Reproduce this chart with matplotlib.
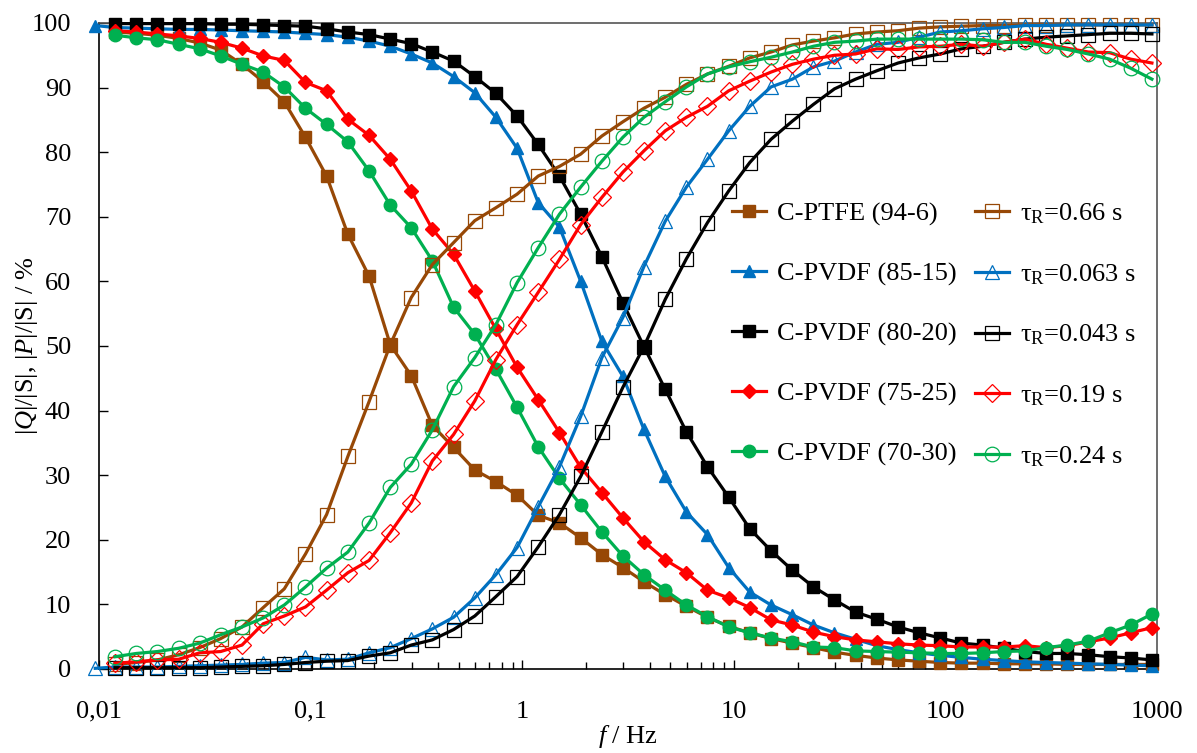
import numpy as np
import matplotlib
matplotlib.use("Agg")
import matplotlib.pyplot as plt
from matplotlib.ticker import FixedLocator, FixedFormatter, LogLocator, NullFormatter

plt.rcParams["font.family"] = ["Liberation Serif", "DejaVu Serif"]
plt.rcParams["mathtext.fontset"] = "custom"
plt.rcParams["mathtext.rm"] = "Liberation Serif"
plt.rcParams["mathtext.it"] = "Liberation Serif:italic"

###############################################################
# data
###############################################################
freq = [0.0119, 0.0150, 0.0189, 0.0238, 0.0299, 0.0376, 0.0474, 0.0597, 0.0751, 0.0946,
        0.119, 0.150, 0.189, 0.238, 0.299, 0.376, 0.474, 0.597, 0.751, 0.946,
        1.19, 1.50, 1.89, 2.38, 2.99, 3.76, 4.74, 5.97, 7.51, 9.46,
        11.9, 15.0, 18.9, 23.8, 29.9, 37.6, 47.4, 59.7, 75.1, 94.6,
        119, 150, 189, 238, 299, 376, 474, 597, 751, 946]
# C-PVDF (85-15) has one extra point at the low-frequency end
freq_85 = [0.0096] + freq

ptfe_q = [98.6, 98.4, 98.1, 97.6, 96.9, 95.8, 93.6, 90.9, 87.8, 82.3,
          76.3, 67.3, 60.8, 50.2, 45.4, 37.7, 34.3, 30.8, 29.0, 26.9,
          23.8, 22.6, 20.3, 17.7, 15.7, 13.5, 11.5, 9.7, 8.0, 6.6,
          5.6, 4.7, 4.0, 3.3, 2.6, 2.1, 1.7, 1.4, 1.2, 1.0,
          0.9, 0.9, 0.8, 0.8, 0.8, 0.7, 0.7, 0.7, 0.7, 0.7]
ptfe_p = [0.7, 1.0, 1.4, 2.2, 3.3, 4.7, 6.5, 9.5, 12.4, 17.8,
          23.9, 32.9, 41.4, 50.2, 57.5, 62.6, 66.0, 69.4, 71.4, 73.5,
          76.3, 77.8, 79.7, 82.5, 84.7, 86.8, 88.5, 90.5, 92.1, 93.3,
          94.6, 95.5, 96.6, 97.2, 97.7, 98.3, 98.6, 98.8, 99.2, 99.4,
          99.5, 99.6, 99.6, 99.7, 99.7, 99.7, 99.7, 99.7, 99.7, 99.7]

pvdf85_q = [99.6, 99.3, 99.2, 99.1, 99.0, 99.0, 98.9, 98.8, 98.7, 98.6, 98.4,
            98.2, 97.8, 97.2, 96.4, 95.2, 93.8, 91.7, 89.2, 85.4, 80.6,
            72.2, 68.4, 60.0, 50.7, 45.3, 37.1, 29.8, 24.3, 20.8, 15.7,
            11.9, 9.9, 8.4, 6.8, 5.6, 4.6, 3.6, 3.0, 2.5, 2.1,
            1.8, 1.5, 1.3, 1.1, 1.0, 0.9, 0.8, 0.7, 0.6, 0.5]
pvdf85_p = [0.1, 0.3, 0.3, 0.3, 0.4, 0.5, 0.6, 0.7, 0.9, 1.0, 1.8,
            1.4, 1.5, 2.5, 3.3, 4.7, 6.2, 8.0, 11.0, 14.6, 18.8,
            25.1, 31.3, 39.1, 48.2, 54.4, 62.3, 69.3, 74.6, 78.9, 83.3,
            87.1, 90.1, 91.3, 93.2, 94.1, 95.5, 96.7, 97.0, 97.8, 98.6,
            98.8, 99.1, 99.3, 99.6, 99.6, 99.7, 99.7, 99.7, 99.7, 99.7]

pvdf80_q = [99.9, 99.9, 99.9, 99.9, 99.9, 99.8, 99.8, 99.7, 99.6, 99.5,
            99.1, 98.6, 98.2, 97.5, 96.8, 95.5, 94.1, 91.7, 89.1, 85.6,
            81.2, 76.3, 70.4, 63.8, 56.7, 49.9, 43.3, 36.7, 31.3, 26.6,
            21.7, 18.3, 15.3, 12.7, 10.7, 8.8, 7.7, 6.5, 5.6, 4.8,
            4.0, 3.7, 3.2, 2.7, 2.4, 2.4, 2.2, 1.9, 1.7, 1.4]
pvdf80_p = [0.2, 0.2, 0.2, 0.2, 0.2, 0.3, 0.4, 0.5, 0.7, 1.0,
            1.2, 1.3, 2.0, 2.5, 3.7, 4.5, 6.1, 8.2, 11.2, 14.3,
            18.9, 23.9, 29.8, 36.7, 43.6, 49.9, 57.2, 63.5, 69.1, 74.0,
            78.4, 82.0, 84.8, 87.4, 89.8, 91.3, 92.6, 93.8, 94.6, 95.2,
            96.0, 96.4, 97.0, 97.5, 97.8, 98.0, 98.2, 98.4, 98.4, 98.3]

pvdf75_q = [98.8, 98.6, 98.3, 98.0, 97.6, 97.0, 96.1, 94.9, 94.2, 90.8,
            89.5, 85.1, 82.6, 78.9, 74.0, 68.1, 64.2, 58.5, 52.6, 46.7,
            41.7, 36.6, 31.2, 27.3, 23.4, 19.7, 16.9, 14.9, 12.2, 11.0,
            9.5, 7.6, 6.8, 5.7, 5.0, 4.5, 4.2, 3.9, 3.7, 3.6,
            3.4, 3.4, 3.4, 3.6, 3.3, 3.6, 4.2, 4.8, 5.6, 6.4]
pvdf75_p = [0.9, 1.1, 1.4, 1.5, 2.5, 2.7, 3.7, 7.0, 8.2, 9.6,
            12.2, 14.9, 16.8, 21.1, 25.7, 32.2, 36.3, 41.5, 47.9, 53.3,
            58.3, 63.4, 68.8, 73.0, 76.9, 80.2, 83.3, 85.4, 87.1, 89.5,
            91.0, 92.4, 93.6, 94.4, 95.0, 95.2, 96.0, 95.9, 96.3, 96.4,
            96.7, 96.4, 97.0, 97.5, 96.7, 96.1, 95.5, 95.4, 94.4, 93.8]

pvdf70_q = [98.1, 97.7, 97.4, 96.7, 96.0, 94.9, 93.6, 92.4, 90.1, 86.8,
            84.3, 81.6, 77.1, 71.8, 68.3, 63.2, 56.0, 51.8, 46.4, 40.5,
            34.4, 29.5, 25.4, 21.2, 17.5, 14.6, 12.2, 9.9, 8.1, 6.5,
            5.6, 4.8, 4.2, 3.4, 3.3, 2.8, 2.7, 2.6, 2.5, 2.4,
            2.4, 2.5, 2.7, 2.8, 3.3, 3.7, 4.3, 5.6, 6.8, 8.5]
pvdf70_p = [1.9, 2.4, 2.7, 3.2, 4.0, 5.3, 6.5, 7.9, 9.9, 12.7,
            15.6, 18.1, 22.6, 28.1, 31.7, 37.0, 43.7, 48.2, 53.3, 59.8,
            65.2, 70.4, 74.6, 78.6, 82.3, 85.4, 87.8, 90.1, 92.1, 93.2,
            94.0, 94.7, 95.5, 96.4, 97.0, 97.2, 97.5, 97.5, 97.5, 97.5,
            97.5, 97.4, 97.0, 97.0, 96.4, 95.9, 95.2, 94.4, 93.0, 91.3]

samples = ["C-PTFE (94-6)", "C-PVDF (85-15)", "C-PVDF (80-20)",
           "C-PVDF (75-25)", "C-PVDF (70-30)"]
tau_labels = [r"τ$_\mathrm{R}$=0.66 s", r"τ$_\mathrm{R}$=0.063 s",
              r"τ$_\mathrm{R}$=0.043 s", r"τ$_\mathrm{R}$=0.19 s",
              r"τ$_\mathrm{R}$=0.24 s"]
colors = ["#974806", "#0070C0", "#000000", "#FF0000", "#00B050"]
markers = ["s", "^", "s", "D", "o"]
msizes = [8, 9, 8, 7.5, 9]

x_data = [freq, freq_85, freq, freq, freq]
q_data = [ptfe_q, pvdf85_q, pvdf80_q, pvdf75_q, pvdf70_q]
p_data = [ptfe_p, pvdf85_p, pvdf80_p, pvdf75_p, pvdf70_p]

xticks = [0.01, 0.1, 1, 10, 100, 1000]
xtick_labels = ["0,01", "0,1", "1", "10", "100", "1000"]

###############################################################
# plotting
###############################################################
fig = plt.figure(figsize=(11.97, 7.53), dpi=100)
ax = fig.add_axes([0.0827, 0.1116, 0.8839, 0.8579])

handles_q = []
handles_p = []
for i in range(5):
    hq, = ax.plot(x_data[i], q_data[i], color=colors[i], lw=2.3,
                  marker=markers[i], ms=msizes[i], mfc=colors[i], mec=colors[i],
                  clip_on=False, zorder=3)
    handles_q.append(hq)
for i in range(5):
    hp, = ax.plot(x_data[i], p_data[i], color=colors[i], lw=2.3,
                  marker=markers[i], ms=msizes[i] + 1.5, mfc="none", mec=colors[i],
                  mew=0.9, clip_on=False, zorder=4)
    handles_p.append(hp)

ax.set_xscale("log")
ax.set_xlim(0.01, 1000)
ax.set_ylim(0, 100)

ax.xaxis.set_major_locator(FixedLocator(xticks))
ax.xaxis.set_major_formatter(FixedFormatter(xtick_labels))
ax.xaxis.set_minor_locator(LogLocator(base=10, subs=np.arange(2, 10)))
ax.xaxis.set_minor_formatter(NullFormatter())
ax.set_yticks(np.arange(0, 101, 10))

ax.tick_params(axis="both", which="major", direction="in", labelsize=19,
               length=6.5, width=1.0)
ax.tick_params(axis="x", which="major", pad=23)
ax.tick_params(axis="y", which="major", pad=20)
ax.tick_params(axis="x", which="minor", direction="in", length=5, width=1.0)

for side in ["top", "right"]:
    ax.spines[side].set_color("#555555")
    ax.spines[side].set_linewidth(1.2)
for side in ["left", "bottom"]:
    ax.spines[side].set_color("black")
    ax.spines[side].set_linewidth(1.2)

ax.set_xlabel(r"$f$ / Hz", fontsize=19, labelpad=0)
ax.set_ylabel(r"$|Q|/|\mathrm{S}|$, $|P|/|\mathrm{S}|$ / %", fontsize=19, labelpad=-6)

# legend: filled markers in the first column, open markers in the second
handles = handles_q + handles_p
labels = samples + tau_labels
ax.legend(handles, labels, ncol=2, loc="upper left", bbox_to_anchor=(0.598, 0.724),
          frameon=False, fontsize=19, handlelength=1.3, handletextpad=0.4,
          columnspacing=0.7, labelspacing=1.37, borderpad=0, borderaxespad=0)

fig.savefig("out.png", dpi=100)
